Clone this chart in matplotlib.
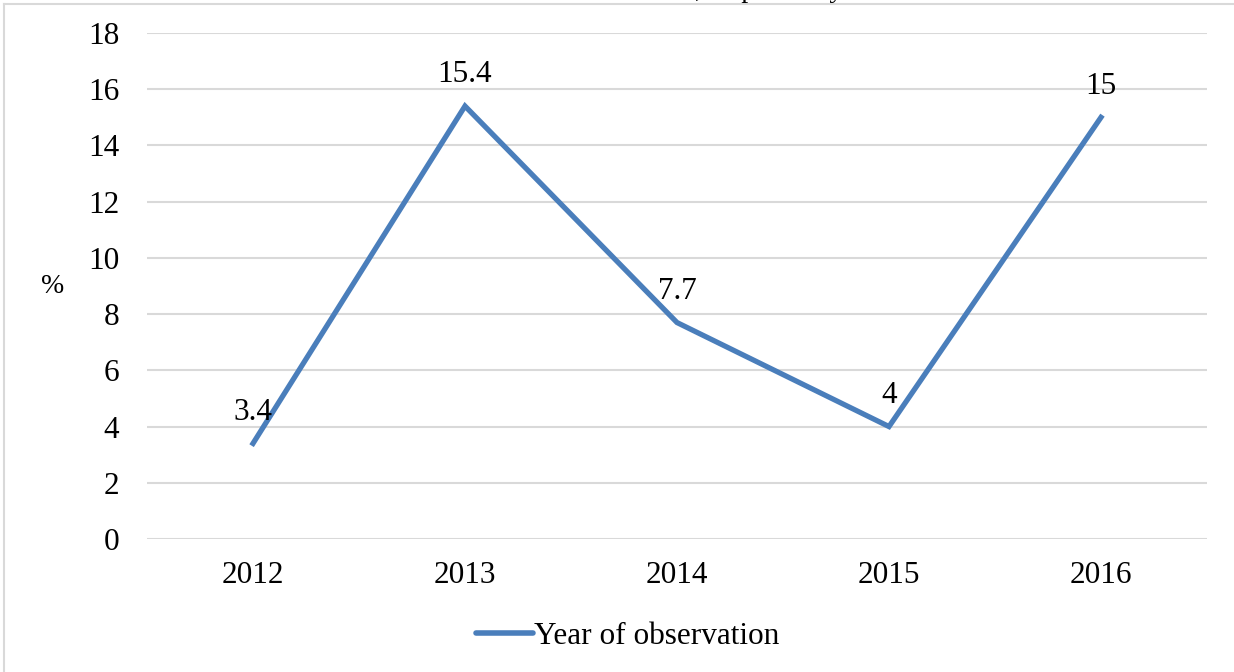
import matplotlib.pyplot as plt
from matplotlib.lines import Line2D

years = ["2012", "2013", "2014", "2015", "2016"]
share = [3.4, 15.4, 7.7, 4, 15]
point_labels = ["3.4", "15.4", "7.7", "4", "15"]
series_name = "Year of observation"

plt.rcParams["font.family"] = ["Liberation Serif", "DejaVu Serif"]

W, H = 1234, 672
fig = plt.figure(figsize=(W / 100, H / 100), dpi=100)
ax = fig.add_axes([147 / W, 1 - 539 / H, (1207 - 147) / W, (539 - 33) / H])

x = list(range(len(years)))
line_color = "#4a7ebb"
ax.plot(x, share, color=line_color, lw=3.8, solid_joinstyle="miter",
        label=series_name, zorder=3)

for xi, v, lab in zip(x, share, point_labels):
    ax.annotate(lab, (xi, v), xytext=(0, 17), textcoords="offset points",
                ha="center", va="baseline", fontsize=22.5)

ax.set_xlim(-0.5, len(years) - 0.5)
ax.set_ylim(0, 18)
ax.set_yticks(range(0, 19, 2))
ax.set_xticks(x)
ax.set_xticklabels(years)
ax.tick_params(axis="both", length=0, labelsize=22.5, colors="black")
ax.tick_params(axis="y", pad=20)
ax.tick_params(axis="x", pad=16)
ax.grid(axis="y", color="#d9d9d9", lw=1.5)
ax.set_axisbelow(True)
for s in ax.spines.values():
    s.set_visible(False)

fig.text(53 / W, 1 - 287 / H, "%", fontsize=20, ha="center", va="center")

# title line sits above the frame, only its tail shows
fig.text(843 / W, 1 + 3 / H, ", respectively", fontsize=20, ha="right",
         va="baseline")

handle = Line2D([], [], color=line_color, lw=4, solid_capstyle="round")
fig.legend([handle], [series_name], loc="center", bbox_to_anchor=(628 / W, 1 - 636 / H),
           frameon=False, fontsize=22.5, handlelength=1.8, handletextpad=0.05,
           borderaxespad=0)

# outer chart frame (left and top edges)
fig.add_artist(Line2D([4 / W, 4 / W], [0, 1 - 4 / H], transform=fig.transFigure,
                      color="#d9d9d9", lw=1.5))
fig.add_artist(Line2D([4 / W, 1], [1 - 4 / H, 1 - 4 / H], transform=fig.transFigure,
                      color="#d9d9d9", lw=1.5))

fig.savefig("out.png", dpi=100)
